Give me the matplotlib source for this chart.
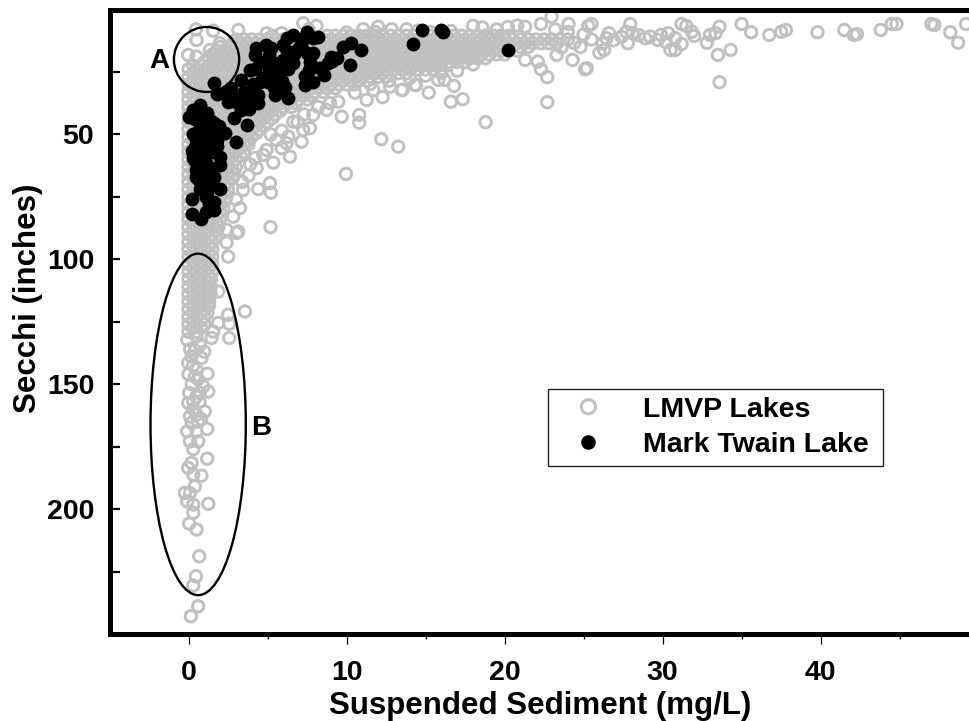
import numpy as np
import matplotlib
matplotlib.use('Agg')
import matplotlib.pyplot as plt
from matplotlib.patches import Ellipse

plt.rcParams['font.family'] = ['Liberation Sans', 'DejaVu Sans']
plt.rcParams['font.weight'] = 'bold'

# LMVP lakes, separate circles that can be read one by one
lmvp_top = [(0.47, 7.9), (1.56, 8.5), (3.15, 8.2), (0.51, 12.2), (-0.02, 18.2), (0.51, 18.9), (1.35, 16.2), (1.98, 13.5),
            (4.94, 9.5), (5.89, 9.5), (7.26, 5.5), (8.1, 6.6), (11.06, 7.9), (12.0, 6.9), (12.85, 7.9), (13.8, 7.9),
            (5.3, 10.5), (7.6, 8.0), (10.0, 9.2), (11.8, 9.0), (14.5, 8.5), (15.3, 9.0), (16.6, 8.6), (18.0, 6.5),
            (18.6, 7.2), (19.5, 8.0), (20.2, 7.0), (20.8, 6.4), (21.3, 6.9)]
lmvp_right = [(22.97, 2.9), (22.3, 5.8), (24.05, 5.8), (25.5, 5.8), (25.3, 6.6), (27.95, 5.8), (31.2, 5.8), (31.5, 6.6),
              (33.6, 6.9), (35.0, 5.8), (35.6, 9.1), (36.75, 10.2), (37.5, 8.9), (37.8, 8.2), (39.8, 9.1), (41.5, 8.2),
              (42.1, 10.2), (42.3, 9.9), (43.8, 8.2), (44.5, 5.8), (44.8, 5.8), (47.0, 5.8), (47.2, 6.2), (48.2, 9.1),
              (48.7, 13.3), (49.2, 5.8), (34.3, 16.2), (33.5, 18.2), (33.6, 29.1), (30.8, 16.2), (30.5, 16.2),
              (32.8, 13.3), (33.0, 10.2), (33.35, 9.5), (32.0, 10.6), (31.85, 8.9), (30.8, 11.5), (30.35, 9.5),
              (29.9, 10.2), (29.7, 12.2), (28.9, 11.5), (27.8, 13.5), (28.1, 9.5), (27.4, 10.9), (27.7, 8.9),
              (26.6, 9.5), (26.45, 11.5), (26.0, 17.3), (26.3, 16.2), (25.1, 23.9), (25.2, 23.5), (24.3, 20.2),
              (23.3, 18.2), (22.7, 27.1), (22.3, 23.9), (22.1, 20.9), (21.3, 20.2), (22.7, 37.1), (18.8, 45.1),
              (17.35, 35.9), (16.6, 36.9), (15.2, 33.3), (16.8, 30.6), (15.8, 28.2), (16.2, 28.2), (14.4, 30.2),
              (13.55, 32.2), (30.2, 13.0), (31.2, 13.8), (28.5, 10.3), (29.2, 10.8), (26.9, 12.3), (26.2, 13.6),
              (25.0, 10.0), (25.5, 12.0), (24.4, 13.4), (23.6, 15.2), (24.8, 15.0), (24.0, 9.0), (23.2, 8.0)]
lmvp_lower_edge = [(12.2, 51.9), (13.27, 54.9), (9.96, 65.8), (5.19, 87.1), (9.69, 42.9), (10.8, 42.2), (10.8, 45.3),
                   (12.28, 35.1), (13.48, 32.2), (11.27, 36.2), (10.53, 33.3), (9.47, 36.9), (8.74, 40.2), (7.68, 47.5),
                   (7.15, 52.9), (6.31, 50.9), (6.42, 58.9), (5.89, 55.5), (5.36, 61.3), (4.73, 58.2), (4.31, 63.5),
                   (5.15, 69.5), (5.21, 73.3), (4.41, 71.9), (3.46, 72.2), (3.25, 79.5), (3.15, 88.9), (2.41, 88.2),
                   (2.83, 82.9), (6.63, 44.9), (7.89, 42.2), (7.26, 48.2), (6.2, 53.5), (5.57, 52.2), (4.94, 56.2),
                   (8.95, 37.5), (14.33, 30.2), (12.75, 30.9), (11.69, 32.2), (6.9, 45.0), (5.9, 48.5), (5.2, 50.0),
                   (8.2, 39.0), (7.3, 42.0), (4.2, 59.5), (3.9, 62.0), (3.8, 66.5), (3.4, 69.0), (3.0, 76.0),
                   (11.5, 29.8), (12.7, 28.5), (14.0, 27.5), (15.0, 26.5), (16.0, 25.5), (17.0, 24.5), (18.0, 22.0)]
lmvp_tail = [(0.15, 242.9), (0.61, 238.9), (0.3, 230.6), (0.47, 226.9), (0.68, 218.9), (0.51, 208.2), (0.04, 205.8),
             (1.25, 197.9), (0.3, 201.5), (0.3, 198.2), (-0.08, 196.9), (0.09, 193.5), (-0.23, 193.5), (0.4, 190.9),
             (0.82, 186.6), (0.3, 186.2), (-0.02, 183.5), (0.19, 181.5), (1.18, 179.8), (0.09, 172.9), (0.61, 172.9),
             (-0.08, 168.9), (0.51, 168.9), (1.18, 167.9), (0.09, 162.9), (0.51, 162.2), (1.03, 160.9), (-0.02, 157.5),
             (0.3, 156.9), (0.04, 153.5), (0.72, 153.5), (1.25, 152.9), (0.93, 150.9), (0.4, 146.9), (1.2, 145.8),
             (-0.02, 141.5), (0.82, 139.5), (0.19, 138.9), (-0.08, 132.2), (0.72, 134.2), (1.46, 131.5), (2.58, 131.5),
             (2.58, 125.8), (2.51, 122.2), (3.57, 120.9), (1.88, 125.5), (1.56, 128.9), (1.88, 112.9), (2.51, 98.9),
             (2.41, 93.3), (3.04, 89.5), (0.3, 176.0), (0.6, 165.0), (0.3, 160.0), (0.7, 157.0), (0.2, 150.0),
             (0.5, 144.0), (0.1, 136.0), (0.5, 131.0), (0.3, 142.5), (0.6, 148.0), (0.0, 146.0), (0.4, 136.5),
             (1.0, 137.0), (0.5, 155.0), (0.2, 165.5), (0.8, 164.0)]

# dense part of the cloud, read row by row (Secchi value, then sediment values in that row)
band_y = [10.5, 12, 13.5, 15, 16.5, 18, 19.5, 21, 22.5, 24, 25.5, 27, 28.5, 30]
band_x = [
    [8.8, 9.3, 9.8, 10.3, 10.8, 11.3, 11.8, 12.3, 12.8, 13.3, 13.8, 14.3, 14.8, 15.3, 15.8, 16.3, 16.8, 17.3, 17.8, 18.3,
     18.8, 19.3, 19.8, 20.3],
    [3.0, 3.5, 4.0, 4.5, 5.0, 5.5, 6.0, 6.5, 7.0, 7.5, 8.0, 8.5, 9.0, 9.5, 10.0, 10.5, 11.0, 11.5, 12.0, 12.5, 13.0,
     13.5, 14.0, 14.5, 15.0, 15.5, 16.0, 16.5, 17.0, 17.5, 18.0, 18.5, 19.0, 19.5, 20.0, 20.5, 21.0, 21.5, 22.0, 22.5,
     23.0, 23.5, 24.0],
    [2.8, 3.3, 3.8, 4.3, 4.8, 5.3, 5.8, 6.3, 6.8, 7.3, 7.8, 8.3, 8.8, 9.3, 9.8, 10.3, 10.8, 11.3, 11.8, 12.3, 12.8,
     13.3, 13.8, 14.3, 14.8, 15.3, 15.8, 16.3, 16.8, 17.3, 17.8, 18.3, 18.8, 19.3, 19.8, 20.3, 20.8, 21.3, 21.8, 22.3,
     22.8, 23.3],
    [2.0, 2.5, 3.0, 3.5, 4.0, 4.5, 5.0, 5.5, 6.0, 6.5, 7.0, 7.5, 8.0, 8.5, 9.0, 9.5, 10.0, 10.5, 11.0, 11.5, 12.0, 12.5,
     13.0, 13.5, 14.0, 14.5, 15.0, 15.5, 16.0, 16.5, 17.0, 17.5, 18.0, 18.5, 19.0, 19.5, 20.0, 20.5, 21.0, 21.5],
    [1.8, 2.3, 2.8, 3.3, 3.8, 4.3, 4.8, 5.3, 5.8, 6.3, 6.8, 7.3, 7.8, 8.3, 8.8, 9.3, 9.8, 10.3, 10.8, 11.3, 11.8, 12.3,
     12.8, 13.3, 13.8, 14.3, 14.8, 15.3, 15.8, 16.3, 16.8, 17.3, 17.8, 18.3, 18.8, 19.3, 19.8, 20.3, 20.8],
    [1.5, 2.0, 2.5, 3.0, 3.5, 4.0, 4.5, 5.0, 5.5, 6.0, 6.5, 7.0, 7.5, 8.0, 8.5, 9.0, 9.5, 10.0, 10.5, 11.0, 11.5, 12.0,
     12.5, 13.0, 13.5, 14.0, 14.5, 15.0, 15.5, 16.0, 16.5, 17.0, 17.5, 18.0, 18.5, 19.0, 19.5, 20.0],
    [1.3, 1.8, 2.3, 2.8, 3.3, 3.8, 4.3, 4.8, 5.3, 5.8, 6.3, 6.8, 7.3, 7.8, 8.3, 8.8, 9.3, 9.8, 10.3, 10.8, 11.3, 11.8,
     12.3, 12.8, 13.3, 13.8, 14.3, 14.8, 15.3, 15.8, 16.3, 16.8, 17.3, 17.8, 18.3, 18.8],
    [1.0, 1.5, 2.0, 2.5, 3.0, 3.5, 4.0, 4.5, 5.0, 5.5, 6.0, 6.5, 7.0, 7.5, 8.0, 8.5, 9.0, 9.5, 10.0, 10.5, 11.0, 11.5,
     12.0, 12.5, 13.0, 13.5, 14.0, 14.5, 15.0, 15.5, 16.0, 16.5, 17.0, 17.5],
    [0.3, 0.8, 1.3, 1.8, 2.3, 2.8, 3.3, 3.8, 4.3, 4.8, 5.3, 5.8, 6.3, 6.8, 7.3, 7.8, 8.3, 8.8, 9.3, 9.8, 10.3, 10.8,
     11.3, 11.8, 12.3, 12.8, 13.3, 13.8, 14.3, 14.8, 15.3, 15.8, 16.3],
    [0.0, 0.5, 1.0, 1.5, 2.0, 2.5, 3.0, 3.5, 4.0, 4.5, 5.0, 5.5, 6.0, 6.5, 7.0, 7.5, 8.0, 8.5, 9.0, 9.5, 10.0, 10.5,
     11.0, 11.5, 12.0, 12.5, 13.0, 13.5, 14.0, 14.5, 15.0, 15.5],
    [0.3, 0.8, 1.3, 1.8, 2.3, 2.8, 3.3, 3.8, 4.3, 4.8, 5.3, 5.8, 6.3, 6.8, 7.3, 7.8, 8.3, 8.8, 9.3, 9.8, 10.3, 10.8,
     11.3, 11.8, 12.3, 12.8, 13.3, 13.8],
    [0.0, 0.5, 1.0, 1.5, 2.0, 2.5, 3.0, 3.5, 4.0, 4.5, 5.0, 5.5, 6.0, 6.5, 7.0, 7.5, 8.0, 8.5, 9.0, 9.5, 10.0, 10.5,
     11.0, 11.5, 12.0, 12.5],
    [0.3, 0.8, 1.3, 1.8, 2.3, 2.8, 3.3, 3.8, 4.3, 4.8, 5.3, 5.8, 6.3, 6.8, 7.3, 7.8, 8.3, 8.8, 9.3, 9.8, 10.3, 10.8, 11.3],
    [0.0, 0.5, 1.0, 1.5, 2.0, 2.5, 3.0, 3.5, 4.0, 4.5, 5.0, 5.5, 6.0, 6.5, 7.0, 7.5, 8.0, 8.5, 9.0, 9.5, 10.0, 10.5],
]
column_y = [31.5, 33, 34.5, 36, 37.5, 39, 40.5, 42, 43.5, 45, 46.5, 48, 49.5, 51, 52.5, 54, 55.5, 57, 58.5, 60,
            61.5, 63, 64.5, 66, 67.5, 69, 70.5, 72, 73.5, 75, 76.5, 78, 79.5, 81, 82.5, 84, 85.5, 87, 88.5, 90,
            91.5, 93, 94.5, 96, 97.5, 99, 100.5, 102, 103.5, 105, 106.5, 108, 109.5, 111, 112.5, 114, 115.5, 117,
            118.5, 120, 121.5, 123, 124.5, 126, 127.5, 129]
column_x = [
    [0.3, 0.8, 1.3, 1.8, 2.3, 2.8, 3.3, 3.8, 4.3, 4.8, 5.3, 5.8, 6.3, 6.8, 7.3, 7.8, 8.3, 8.8, 9.3],
    [0.0, 0.5, 1.0, 1.5, 2.0, 2.5, 3.0, 3.5, 4.0, 4.5, 5.0, 5.5, 6.0, 6.5, 7.0, 7.5, 8.0, 8.5],
    [0.3, 0.8, 1.3, 1.8, 2.3, 2.8, 3.3, 3.8, 4.3, 4.8, 5.3, 5.8, 6.3, 6.8, 7.3, 7.8],
    [0.0, 0.5, 1.0, 1.5, 2.0, 2.5, 3.0, 3.5, 4.0, 4.5, 5.0, 5.5, 6.0, 6.5, 7.0, 7.5],
    [0.3, 0.8, 1.3, 1.8, 2.3, 2.8, 3.3, 3.8, 4.3, 4.8, 5.3, 5.8, 6.3, 6.8],
    [0.0, 0.5, 1.0, 1.5, 2.0, 2.5, 3.0, 3.5, 4.0, 4.5, 5.0, 5.5, 6.0, 6.5],
    [0.3, 0.8, 1.3, 1.8, 2.3, 2.8, 3.3, 3.8, 4.3, 4.8, 5.3, 5.8],
    [0.0, 0.5, 1.0, 1.5, 2.0, 2.5, 3.0, 3.5, 4.0, 4.5, 5.0, 5.5],
    [0.3, 0.8, 1.3, 1.8, 2.3, 2.8, 3.3, 3.8, 4.3, 4.8, 5.3],
    [0.0, 0.5, 1.0, 1.5, 2.0, 2.5, 3.0, 3.5, 4.0, 4.5, 5.0],
    [0.3, 0.8, 1.3, 1.8, 2.3, 2.8, 3.3, 3.8, 4.3, 4.8],
    [0.0, 0.5, 1.0, 1.5, 2.0, 2.5, 3.0, 3.5, 4.0, 4.5],
    [0.3, 0.8, 1.3, 1.8, 2.3, 2.8, 3.3, 3.8, 4.3],
    [0.0, 0.5, 1.0, 1.5, 2.0, 2.5, 3.0, 3.5, 4.0],
    [0.3, 0.8, 1.3, 1.8, 2.3, 2.8, 3.3, 3.8],
    [0.0, 0.5, 1.0, 1.5, 2.0, 2.5, 3.0, 3.5, 3.8],
    [0.3, 0.8, 1.3, 1.8, 2.3, 2.8, 3.3],
    [0.0, 0.5, 1.0, 1.5, 2.0, 2.5, 3.0, 3.5],
    [0.3, 0.8, 1.3, 1.8, 2.3, 2.8, 3.3],
    [0.0, 0.5, 1.0, 1.5, 2.0, 2.5, 3.0],
    [0.3, 0.8, 1.3, 1.8, 2.3, 2.8],
    [0.0, 0.5, 1.0, 1.5, 2.0, 2.5, 3.0],
    [0.3, 0.8, 1.3, 1.8, 2.3, 2.8],
    [0.0, 0.5, 1.0, 1.5, 2.0, 2.5, 2.9],
    [0.3, 0.8, 1.3, 1.8, 2.3, 2.8],
    [0.0, 0.5, 1.0, 1.5, 2.0, 2.5],
    [0.3, 0.8, 1.3, 1.8, 2.3],
    [0.0, 0.5, 1.0, 1.5, 2.0, 2.5],
    [0.3, 0.8, 1.3, 1.8, 2.3],
    [0.0, 0.5, 1.0, 1.5, 2.0, 2.4],
    [0.3, 0.8, 1.3, 1.8, 2.3],
    [0.0, 0.5, 1.0, 1.5, 2.0],
    [0.3, 0.8, 1.3, 1.8, 2.2],
    [0.0, 0.5, 1.0, 1.5, 2.0],
    [0.3, 0.8, 1.3, 1.8],
    [0.0, 0.5, 1.0, 1.5, 2.0],
    [0.3, 0.8, 1.3, 1.8],
    [0.0, 0.5, 1.0, 1.5, 1.9],
    [0.3, 0.8, 1.3, 1.8],
    [0.0, 0.5, 1.0, 1.5],
    [0.3, 0.8, 1.3, 1.7],
    [0.0, 0.5, 1.0, 1.5],
    [0.3, 0.8, 1.3],
    [0.0, 0.5, 1.0, 1.5],
    [0.3, 0.8, 1.3],
    [0.0, 0.5, 1.0, 1.5],
    [0.3, 0.8, 1.3],
    [0.0, 0.5, 1.0, 1.5],
    [0.3, 0.8, 1.3],
    [0.0, 0.5, 1.0, 1.5],
    [0.3, 0.8, 1.3],
    [0.0, 0.5, 1.0, 1.4],
    [0.3, 0.8, 1.3],
    [0.0, 0.5, 1.0, 1.4],
    [0.3, 0.8, 1.3],
    [0.0, 0.5, 1.0, 1.4],
    [0.3, 0.8, 1.3],
    [0.0, 0.5, 1.0, 1.3],
    [0.3, 0.8, 1.3],
    [0.0, 0.5, 1.0],
    [0.3, 0.8, 1.2],
    [0.0, 0.5, 1.0],
    [0.3, 0.8],
    [0.0, 0.5, 1.0],
    [0.3, 0.8],
    [0.0, 0.5],
]

# Mark Twain Lake
twain_x = [1.6, 1.8, 0.0, 0.7, 0.3, 1.2, 0.7, 1.6, 2.3, 0.9, 0.4, 1.1, 1.8, 0.3, 0.9, 2.0, 2.0, 0.5, 1.6, 0.9, 1.1, 0.5,
           2.0, 1.1, 0.2, 1.6, 1.6, 0.2, 0.8, 1.1, 0.9, 3.0, 3.7, 2.9, 3.3, 3.8, 2.5, 3.1, 3.3, 3.9, 4.2, 4.9, 4.4, 3.9,
           4.7, 5.1, 5.1, 5.7, 5.5, 6.3, 6.1, 6.0, 6.6, 6.0, 6.6, 7.5, 8.2, 7.1, 7.9, 7.6, 7.4, 7.9, 8.6, 8.8, 9.4,
           10.2, 9.8, 10.3, 10.9, 0.7, 1.2, 1.6, 1.8, 0.5, 1.4, 14.75, 16.0, 16.1, 14.2, 20.2,
           2.3, 2.7, 3.0, 3.5, 4.1, 4.5, 5.0, 5.3, 4.2, 4.5, 4.3, 5.2, 5.3, 5.9, 6.3, 6.7, 6.2, 6.9, 7.3, 6.2, 7.9, 7.5,
           6.4, 5.9, 5.4, 7.4, 7.7, 8.3, 9.1, 9.0, 6.0, 3.7, 4.4, 3.5,
           0.4, 0.9, 1.4, 1.9, 0.3, 0.8, 1.3, 1.8, 0.2, 0.7, 1.2, 1.7, 0.4, 0.9, 1.4, 0.6, 1.1, 1.5, 0.7, 1.2, 1.3]
twain_y = [29.5, 34.0, 42.9, 38.2, 40.2, 41.5, 44.2, 45.5, 49.5, 49.5, 55.0, 53.5, 52.2, 59.5, 58.9, 58.9, 62.2, 64.2,
           66.9, 65.5, 61.5, 66.9, 72.0, 74.9, 76.0, 76.9, 80.2, 81.8, 84.0, 80.9, 70.0, 52.9, 46.2, 43.5, 40.2, 40.0,
           36.9, 35.5, 28.2, 24.2, 18.2, 14.2, 34.2, 33.5, 27.5, 24.2, 18.2, 26.2, 34.2, 35.5, 30.9, 20.2, 21.5, 14.2,
           10.2, 8.9, 11.1, 14.2, 17.5, 24.2, 30.2, 28.9, 26.2, 21.5, 19.5, 22.2, 14.9, 13.5, 16.2, 47.0, 47.5, 51.0,
           48.0, 52.0, 57.0, 8.2, 8.2, 9.0, 13.9, 16.2,
           33.5, 31.5, 37.0, 33.0, 30.0, 29.0, 29.0, 27.0, 24.0, 21.0, 15.5, 15.5, 21.0, 23.0, 24.0, 18.0, 16.5, 16.0,
           11.5, 11.5, 11.5, 17.5, 21.0, 28.5, 31.0, 26.5, 21.0, 23.5, 20.5, 19.0, 32.5, 38.0, 37.3, 35.0,
           44.0, 42.5, 44.5, 46.5, 50.0, 52.5, 50.5, 54.5, 56.5, 55.0, 56.5, 56.0, 60.5, 62.0, 63.5, 68.0, 68.5, 70.0,
           72.0, 73.0, 78.0]

gray = '#c0c0c0'

lmvp = lmvp_top + lmvp_right + lmvp_lower_edge + lmvp_tail
for y, row in zip(band_y + column_y, band_x + column_x):
    lmvp = lmvp + [(x, y) for x in row]
lmvp = np.array(lmvp)

fig = plt.figure(figsize=(9.69, 7.21), dpi=100)
# the axes run a little past the right side of the picture, as in the original
ax = fig.add_axes([109.5 / 969, 1 - 634 / 721, 869.2 / 969, 624.5 / 721])

ax.scatter(lmvp[:, 0], lmvp[:, 1], s=68, facecolors='none', edgecolors=gray, linewidths=2.1,
           label='LMVP Lakes', clip_on=False, zorder=2)
ax.scatter(twain_x, twain_y, s=100, color='black', linewidths=0, label='Mark Twain Lake', zorder=3)

ax.add_patch(Ellipse((1.14, 20), 4.13, 26, fill=False, edgecolor='black', linewidth=1.7, zorder=4))
ax.add_patch(Ellipse((0.61, 166.1), 6.03, 136.7, fill=False, edgecolor='black', linewidth=1.7, zorder=4))
ax.text(-2.45, 20.6, 'A', fontsize=20, va='center', ha='left')
ax.text(3.99, 167.4, 'B', fontsize=20, va='center', ha='left')

ax.set_xlim(-5, 50)
ax.set_ylim(250, 0)
ax.set_xticks([0, 10, 20, 30, 40])
ax.set_xticks([5, 15, 25, 35, 45], minor=True)
ax.set_yticks([50, 100, 150, 200])
ax.set_yticks([25, 75, 125, 175, 225], minor=True)

for s in ax.spines.values():
    s.set_linewidth(3.6)
ax.tick_params(axis='x', which='major', direction='out', length=7, width=0.9, labelsize=20.5, pad=12)
ax.tick_params(axis='x', which='minor', direction='out', length=3.5, width=0.9)
ax.tick_params(axis='y', which='both', direction='in', length=7, width=1.6, labelsize=20.5, pad=11)

ax.set_xlabel('Suspended Sediment (mg/L)', fontsize=22.5, fontweight='bold')
ax.xaxis.set_label_coords(0.496, -0.091)
ax.set_ylabel('Secchi (inches)', fontsize=22.5, fontweight='bold')
ax.yaxis.set_label_coords(-0.076, 0.538)

# box width comes from the anchor, mode expand keeps it when the padding is small
leg = ax.legend(loc='upper left', bbox_to_anchor=(548.3 / 969, 1 - 388.7 / 721, 334.4 / 969, 0),
                bbox_transform=fig.transFigure, mode='expand',
                fontsize=20.5, frameon=True, fancybox=False, framealpha=1, edgecolor='#222222',
                borderaxespad=0, borderpad=0.28, labelspacing=0.33, handletextpad=0.79, handlelength=2.26,
                scatteryoffsets=[0.5])
leg.get_frame().set_linewidth(1.0)
leg.legend_handles[0].set_sizes([105])
leg.legend_handles[1].set_sizes([110])

fig.savefig('out.png', dpi=100)
